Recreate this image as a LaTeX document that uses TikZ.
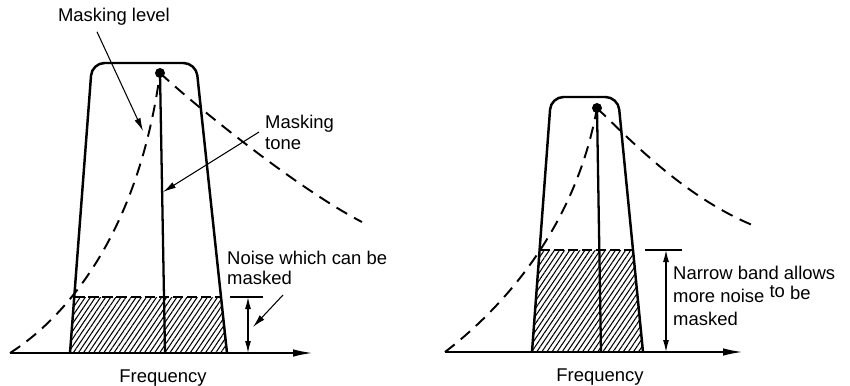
\documentclass[tikz,border=0pt]{standalone}
\usepackage{fontspec}
\setmainfont{Liberation Sans}
\usetikzlibrary{arrows.meta,patterns.meta,calc}

\begin{document}
\begin{tikzpicture}[x=0.02cm, y=-0.02cm, font=\fontsize{10.5}{12}\selectfont,
  band/.style={line width=1.4pt, rounded corners=0.25cm},
  mask/.style={line width=1.1pt, dash pattern=on 7pt off 4.5pt},
  hatch/.style={pattern={Lines[angle=56,distance=2.4pt,line width=0.6pt]}},
  hatchtop/.style={line width=1pt, dash pattern=on 6pt off 2pt},
  axisline/.style={line width=1.1pt, -{Latex[length=4mm,width=1.5mm]}},
  toneline/.style={line width=1.3pt},
  pointer/.style={line width=0.6pt, -{Latex[length=2.6mm,width=1.3mm]}},
  dimline/.style={line width=0.7pt, {Latex[length=2.4mm,width=1.2mm]}-{Latex[length=2.4mm,width=1.2mm]}},
  dot/.style={circle, fill, inner sep=0pt, minimum size=0.2cm}]
\useasboundingbox (0,0) rectangle (850,386);

% wide band (left)
\fill[hatch] (70,353) -- (74.3,297) -- (221,297) -- (227,353) -- cycle;
\draw[hatchtop] (74.3,297) -- (221,297);
\draw[band] (70,353) -- (92,63) -- (196,63) -- (227,353);
\node[dot] (dotA) at (160,73) {};
\coordinate (baseA) at (165,353);
\draw[toneline] (baseA) -- (dotA.center);
\coordinate (axA) at (10,353);
\coordinate (axEndA) at (313,353);
\draw[axisline] (axA) -- (axEndA);
\draw[mask] (axA) .. controls (65,318) and (138,235) .. (dotA.center);
\draw[mask] (dotA.center) .. controls (200,110) and (300,190) .. (362,222);

\node (lvl) at (114,17) {Masking level};
\coordinate (lvlTip) at (143,131);
\draw[pointer] ($(lvl.south)+(-17,0)$) -- (lvlTip);
\node[align=left, anchor=west] (tone) at (259,132) {Masking\\tone};
\coordinate (toneTip) at (163,192);
\draw[pointer] (tone.west) -- (toneTip);

\coordinate (dimTopA) at (248,297);
\coordinate (dimBotA) at (248,353);
\draw[line width=0.7pt] ($(dimTopA)+(-18,0)$) -- ($(dimTopA)+(15,0)$);
\draw[dimline] (dimTopA) -- (dimBotA);
\node[align=left, anchor=west, font=\fontsize{10.5}{11.3}\selectfont] (noise) at (221,268) {Noise which can be\\masked};
\coordinate (noiseTip) at (253,327);
\draw[pointer] (283,295) -- (noiseTip);
\node (freqA) at (163,378) {Frequency};

% narrow band (right)
\fill[hatch] (532,352) -- (539.6,250) -- (633,250) -- (643,352) -- cycle;
\draw[hatchtop] (539.6,250) -- (633,250);
\draw[band] (532,352) -- (551,97) -- (618,97) -- (643,352);
\node[dot] (dotB) at (597,108) {};
\coordinate (baseB) at (601,352);
\draw[toneline] (baseB) -- (dotB.center);
\coordinate (axB) at (445,352);
\coordinate (axEndB) at (743,352);
\draw[axisline] (axB) -- (axEndB);
\draw[mask] (axB) .. controls (500,310) and (575,230) .. (dotB.center);
\draw[mask] (dotB.center) .. controls (640,150) and (690,200) .. (757,227);

\coordinate (dimTopB) at (666,250);
\coordinate (dimBotB) at (666,352);
\draw[line width=0.7pt] ($(dimTopB)+(-21,0)$) -- ($(dimTopB)+(16,0)$);
\draw[dimline] (dimTopB) -- (dimBotB);
\node[align=left, anchor=west, font=\fontsize{10.5}{13.3}\selectfont] (narrow) at (667,296) {Narrow band allows\\more noise \raisebox{3pt}{to} \raisebox{1.5pt}{be}\\masked};
\node (freqB) at (600,377) {Frequency};
\end{tikzpicture}
\end{document}
